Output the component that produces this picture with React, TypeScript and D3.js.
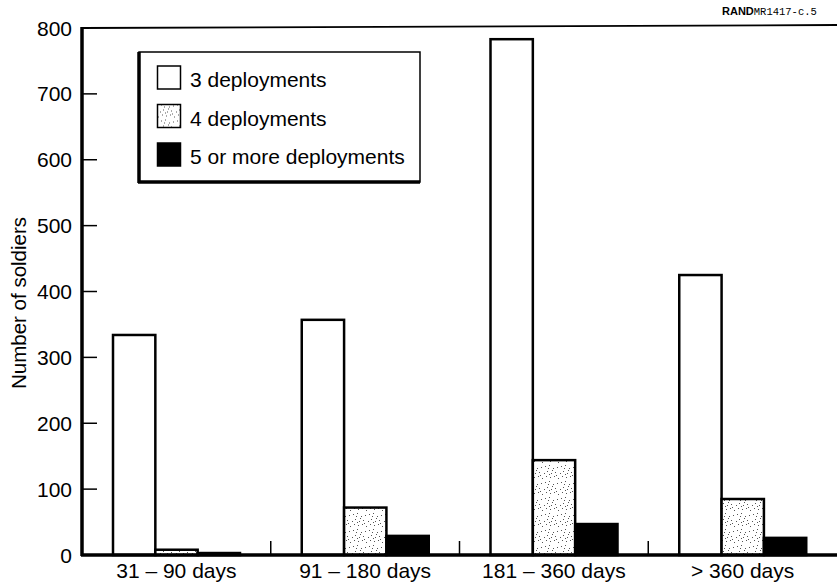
import React from "react";
import * as d3 from "d3";

const categories = ["31 \u2013 90 days", "91 \u2013 180 days", "181 \u2013 360 days", "> 360 days"];
const seriesNames = ["3 deployments", "4 deployments", "5 or more deployments"];
const threeDeployments = [334, 357, 783, 425];
const fourDeployments = [8, 72, 144, 85];
const fiveOrMore = [3, 29, 47, 26];
const yTicks = [0, 100, 200, 300, 400, 500, 600, 700, 800];

const seriesValues = [threeDeployments, fourDeployments, fiveOrMore];

const W = 837;
const H = 584;
const left = 82;
const right = 837;
const top = 28;
const bottom = 555;

// pseudo-stipple dot positions for the pattern (fixed, not data)
const dots: [number, number][] = [
  [1, 2], [5, 1], [9, 4], [3, 7], [7, 9], [11, 8], [2, 12], [6, 13], [10, 12],
  [13, 3], [4, 4], [8, 6], [12, 11], [0, 9], [14, 14], [5, 10],
];

export default function App() {
  const x = d3.scaleBand<string>().domain(categories).range([left, right]);
  const x1 = d3.scaleBand<number>().domain([0, 1, 2]).range([31, 158]);
  const y = d3.scaleLinear().domain([0, 800]).range([bottom, top]);
  const font = "'Liberation Sans', Arial, Helvetica, sans-serif";

  const fills = ["#fff", "url(#stipple)", "#000"];

  return (
    <svg width={W} height={H} style={{ position: "absolute", left: 0, top: 0, background: "#fff" }}>
      <defs>
        <pattern id="stipple" width={16} height={16} patternUnits="userSpaceOnUse">
          <rect width={16} height={16} fill="#fff" />
          {dots.map(([dx, dy], i) => (
            <rect key={i} x={dx} y={dy} width={1} height={1} fill="#555" />
          ))}
        </pattern>
      </defs>

      {/* RAND label */}
      <text x={722} y={15} fontFamily={font} fontWeight="bold" fontSize={11} fill="#000">
        RAND
        <tspan fontFamily="'Liberation Mono', 'DejaVu Sans Mono', monospace" fontWeight="normal" fontSize={10.5}>
          MR1417-c.5
        </tspan>
      </text>

      {/* top frame line */}
      <line x1={left} x2={right} y1={top} y2={top - 3} stroke="#000" strokeWidth={1.8} />

      {/* bars */}
      {categories.map((c, ci) =>
        seriesValues.map((vals, si) => {
          const bx = (x(c) as number) + (x1(si) as number);
          const by = y(vals[ci]);
          return (
            <rect
              key={`${ci}-${si}`}
              x={bx}
              y={by}
              width={x1.bandwidth()}
              height={bottom - by}
              fill={fills[si]}
              stroke="#000"
              strokeWidth={2.5}
            />
          );
        })
      )}

      {/* separators at bottom */}
      {categories.slice(1).map((c) => (
        <line key={c} x1={x(c)} x2={x(c)} y1={bottom - 14} y2={bottom} stroke="#000" strokeWidth={1.5} />
      ))}

      {/* axes */}
      <line x1={left - 1} x2={right} y1={bottom} y2={bottom} stroke="#000" strokeWidth={3.5} />
      <line x1={left} x2={left} y1={top - 1} y2={bottom + 1} stroke="#000" strokeWidth={3.5} />

      {/* y ticks */}
      {yTicks.map((t) => (
        <g key={t}>
          {t > 0 && t < 800 && (
            <line x1={left} x2={left + 15} y1={y(t)} y2={y(t)} stroke="#000" strokeWidth={1.5} />
          )}
          <text x={72} y={y(t)} dy="0.36em" textAnchor="end" fontFamily={font} fontSize={21} fill="#000">
            {t}
          </text>
        </g>
      ))}

      {/* y label */}
      <text
        transform={`translate(26, 303) rotate(-90)`}
        textAnchor="middle"
        fontFamily={font}
        fontSize={20.5}
        fill="#000"
      >
        Number of soldiers
      </text>

      {/* x labels */}
      {categories.map((c) => (
        <text
          key={c}
          x={(x(c) as number) + x.bandwidth() / 2}
          y={578}
          textAnchor="middle"
          fontFamily={font}
          fontSize={21}
          fill="#000"
        >
          {c}
        </text>
      ))}

      {/* legend */}
      <g>
        <rect x={139} y={52} width={281} height={130} fill="#fff" stroke="#000" strokeWidth={1.5} />
        <line x1={139} x2={139} y1={52} y2={183} stroke="#000" strokeWidth={3.5} />
        <line x1={138} x2={420} y1={182} y2={182} stroke="#000" strokeWidth={3.5} />
        {seriesNames.map((s, i) => (
          <g key={s} transform={`translate(0, ${i * 38.5})`}>
            <rect x={157.5} y={66} width={23} height={23} fill={fills[i]} stroke="#000" strokeWidth={1.5} />
            <text x={190} y={87} fontFamily={font} fontSize={21} fill="#000">
              {s}
            </text>
          </g>
        ))}
      </g>
    </svg>
  );
}
